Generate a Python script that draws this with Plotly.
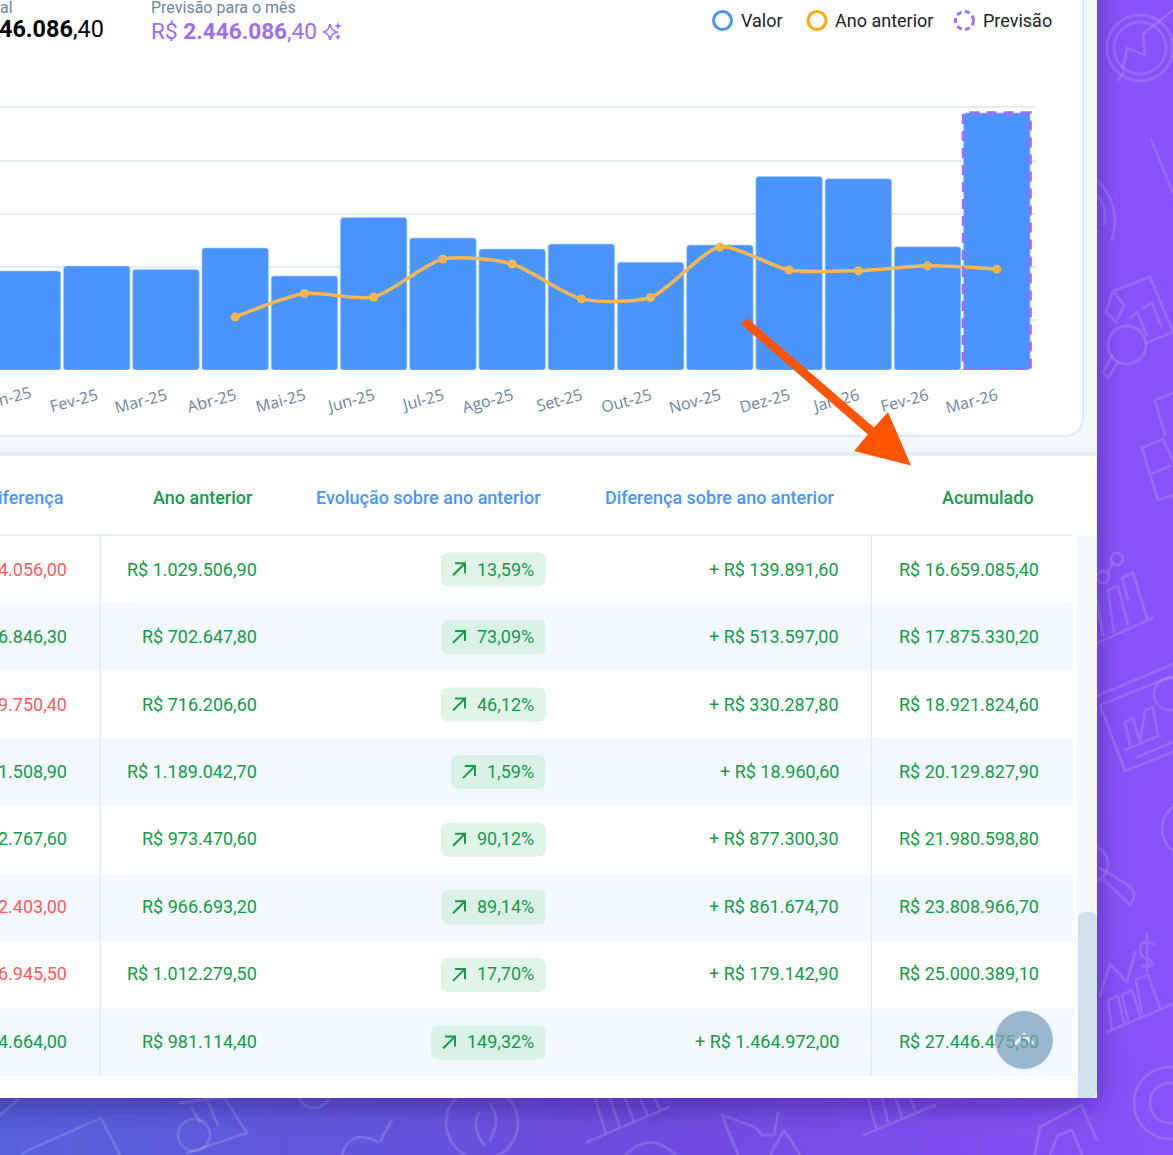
"""
plot.py
-------
Painel de faturamento: barras mensais, linha do ano anterior e tabela.
"""

import base64
import re

import plotly.graph_objects as go

W, H = 1173, 1155

# ─────────────────────────────────────────────
# Dados
# ─────────────────────────────────────────────

meses = ["Jan-25", "Fev-25", "Mar-25", "Abr-25", "Mai-25", "Jun-25", "Jul-25", "Ago-25",
         "Set-25", "Out-25", "Nov-25", "Dez-25", "Jan-26", "Fev-26", "Mar-26"]
valor = [964000, 1011000, 978000, 1180000, 917000, 1466000, 1274000, 1169398.5,
         1216244.8, 1046494.4, 1208003.3, 1850770.9, 1828367.9, 1191422.4, 2446086.4]
ano_anterior = [None, None, None, 533000, 753000, 720000, 1077000, 1029506.9,
                702647.8, 716206.6, 1189042.7, 973470.6, 966693.2, 1012279.5, 981114.4]

col_diferenca = ["4.056,00", "6.846,30", "9.750,40", "1.508,90",
                 "2.767,60", "2.403,00", "6.945,50", "4.664,00"]
col_diferenca_neg = [True, False, True, False, False, True, True, False]
col_ano = ["R$ 1.029.506,90", "R$ 702.647,80", "R$ 716.206,60", "R$ 1.189.042,70",
           "R$ 973.470,60", "R$ 966.693,20", "R$ 1.012.279,50", "R$ 981.114,40"]
col_evolucao = ["13,59%", "73,09%", "46,12%", "1,59%", "90,12%", "89,14%", "17,70%", "149,32%"]
col_dif_ano = ["+ R$ 139.891,60", "+ R$ 513.597,00", "+ R$ 330.287,80", "+ R$ 18.960,60",
               "+ R$ 877.300,30", "+ R$ 861.674,70", "+ R$ 179.142,90", "+ R$ 1.464.972,00"]
col_acumulado = ["R$ 16.659.085,40", "R$ 17.875.330,20", "R$ 18.921.824,60", "R$ 20.129.827,90",
                 "R$ 21.980.598,80", "R$ 23.808.966,70", "R$ 25.000.389,10",
                 "R$ 27.446.4<span style='color:#5f9f96'>75,50</span>"]

Y_MIN, Y_MAX = 35640, 2568000

AZUL = "#4a94ff"
VERDE = "#149a48"
VERMELHO = "#fb5a5f"
LARANJA = "#f5b650"
ROXO = "#9a6dff"
BORDA = "#dfeaf6"
FUNDO_CLARO = "#f3f8fe"
CINZA = "#6d8596"


# ─────────────────────────────────────────────
# Helpers: pixels da tela -> coordenadas paper
# ─────────────────────────────────────────────

def px(x):
    return x / W


def py(y):
    return 1 - y / H


def path(d):
    """Converte um path em pixels (x y alternados) para coordenadas paper."""
    i = [0]

    def conv(m):
        v = float(m.group())
        i[0] += 1
        return f"{px(v):.5f}" if i[0] % 2 else f"{py(v):.5f}"

    return re.sub(r"-?\d+\.?\d*", conv, d)


def s_path(d, fill=None, line=None, lw=0, layer="below", dash=None):
    return dict(type="path", xref="paper", yref="paper", path=path(d), fillcolor=fill or "rgba(0,0,0,0)",
                line=dict(color=line or "rgba(0,0,0,0)", width=lw, dash=dash or "solid"), layer=layer)


def s_rect(x0, y0, x1, y1, fill):
    return dict(type="rect", xref="paper", yref="paper", x0=px(x0), x1=px(x1), y0=py(y0), y1=py(y1),
                fillcolor=fill, line=dict(width=0), layer="below")


def s_circle(cx, cy, r, fill=None, line=None, lw=0, dash=None, layer="below"):
    return dict(type="circle", xref="paper", yref="paper", x0=px(cx - r), x1=px(cx + r), y0=py(cy - r),
                y1=py(cy + r), fillcolor=fill or "rgba(0,0,0,0)",
                line=dict(color=line or "rgba(0,0,0,0)", width=lw, dash=dash or "solid"), layer=layer)


def txt(x, y, text, size=18, color="#222", anchor="right", family="Roboto", weight=None, angle=0):
    return dict(xref="paper", yref="paper", x=px(x), y=py(y), text=text, showarrow=False, xanchor=anchor,
                yanchor="middle", borderwidth=0, borderpad=0, textangle=angle,
                font=dict(family=family, size=size, color=color, weight=weight))


def pill(x0, y0, x1, y1, r, fill):
    return s_path(f"M{x0 + r} {y0} L{x1 - r} {y0} Q{x1} {y0} {x1} {y0 + r} L{x1} {y1 - r} Q{x1} {y1} {x1 - r} {y1} "
                  f"L{x0 + r} {y1} Q{x0} {y1} {x0} {y1 - r} L{x0} {y0 + r} Q{x0} {y0} {x0 + r} {y0} Z", fill=fill)


# ─────────────────────────────────────────────
# Fundo roxo com ícones (SVG embutido)
# ─────────────────────────────────────────────

ICONES = """
<circle cx="1140" cy="48" r="33"/><circle cx="1140" cy="48" r="26"/>
<path d="M1123 68 L1127 48 L1145 55 L1143 34 L1172 11 M1118 80 L1124 72"/>
<path d="M1151 139 L1173 193 M1097 180 Q1122 205 1112 240 M1097 195 Q1108 208 1104 225"/>
<path d="M1113 291 L1150 277 L1173 332 L1146 343 M1113 291 L1106 312 L1116 322 M1113 291 L1124 305 L1118 318 M1130 318 L1137 312 L1147 335 M1143 308 L1152 303 L1161 326"/>
<circle cx="1127" cy="345" r="19"/><path d="M1118 362 L1108 378 L1103 372 L1112 356"/>
<path d="M1155 400 L1173 393 M1155 400 L1165 435 M1142 448 L1163 439 L1173 462 M1142 448 L1158 500 L1173 495 M1150 474 L1170 466"/>
<path d="M1097 643 L1153 618 M1103 635 L1097 600 M1114 632 L1108 590 L1118 586 L1128 625 M1128 600 L1122 578 L1133 573 L1147 618"/>
<circle cx="1117" cy="559" r="6"/><circle cx="1103" cy="577" r="6"/><path d="M1112 564 L1108 572"/>
<path d="M1097 696 L1173 664 M1100 705 L1173 676 M1100 705 L1125 771 L1173 752 M1130 745 L1125 722 L1133 718 L1140 742 L1145 710 L1153 707 L1158 736 M1125 750 L1158 736 M1137 757 L1173 742"/>
<circle cx="1170" cy="694" r="16"/>
<circle cx="1190" cy="829" r="28"/>
<circle cx="1090" cy="864" r="18"/><path d="M1104 880 L1130 905 Q1140 892 1126 884 L1100 868"/>
<path d="M1155 945 Q1140 938 1140 950 Q1140 958 1150 960 Q1156 968 1142 966 M1147 934 L1147 972"/>
<path d="M1107 1032 L1173 1004 M1100 996 L1110 964 L1127 982 L1135 952 M1112 1028 L1108 1000 L1118 996 L1124 1024 M1128 1020 L1122 995 L1132 990 L1140 1016 M1142 1013 L1136 980 L1148 975 L1160 1008"/>
<circle cx="1170" cy="1103" r="36"/><circle cx="1170" cy="1103" r="20"/>
<circle cx="482" cy="1123" r="36"/><path d="M490 1104 Q502 1120 490 1140 M480 1112 Q470 1125 484 1145"/>
<path d="M180 1103 L224 1097 L247 1133 L187 1153 M192 1108 L200 1122 M208 1103 L218 1125"/><circle cx="194" cy="1135" r="16"/>
<path d="M587 1142 L669 1107 M595 1098 L606 1134 M610 1098 L620 1128 M625 1098 L634 1122 M640 1098 L648 1116 M655 1098 L660 1110"/>
<path d="M864 1135 L935 1105 M868 1098 L876 1128 M882 1098 L888 1122 M896 1098 L902 1118 M910 1098 L916 1112"/>
<path d="M722 1115 L738 1155 M722 1115 L755 1127 L762 1135 L774 1135 L778 1113 M770 1155 L784 1130 L800 1155"/>
<path d="M22 1153 L101 1118 L120 1155 M0 1115 L18 1100"/>
<path d="M1040 1127 L1081 1105 L1097 1140 M1040 1127 L1035 1155 M1050 1155 L1058 1135 L1072 1130 L1082 1155"/>
<path d="M342 1155 Q350 1128 378 1142 M381 1140 L392 1120"/><circle cx="314" cy="1092" r="16"/>
<path d="M625 1155 Q650 1130 676 1155"/>
"""

SVG = f"""<svg xmlns="http://www.w3.org/2000/svg" width="{W}" height="{H}" viewBox="0 0 {W} {H}">
<defs>
<linearGradient id="bg" gradientUnits="userSpaceOnUse" x1="0" y1="1155" x2="1173" y2="1000"><stop offset="0" stop-color="#5560dc"/><stop offset="0.55" stop-color="#6f4ae0"/><stop offset="1" stop-color="#8a50fc"/></linearGradient>
<filter id="blur" x="-10%" y="-10%" width="120%" height="120%"><feGaussianBlur stdDeviation="14"/></filter>
</defs>
<rect width="{W}" height="{H}" fill="url(#bg)"/>
<g fill="none" stroke="#fff" stroke-opacity="0.15" stroke-width="2.8" stroke-linecap="round" stroke-linejoin="round">{ICONES}</g>
<rect x="-60" y="-60" width="1157" height="1164" fill="#1a0a3a" fill-opacity="0.4" filter="url(#blur)"/>
</svg>"""
svg_uri = "data:image/svg+xml;base64," + base64.b64encode(SVG.encode()).decode()


# ─────────────────────────────────────────────
# Gráfico
# ─────────────────────────────────────────────

fig = go.Figure()

fig.add_trace(go.Bar(
    x=list(range(len(meses))),
    y=[v - Y_MIN for v in valor],
    base=Y_MIN,
    marker=dict(color=AZUL, line=dict(color="#a9cdfb", width=0.6)),
    name="Valor",
    showlegend=False,
))

fig.add_trace(go.Scatter(
    x=list(range(len(meses))),
    y=ano_anterior,
    mode="lines+markers",
    line=dict(color=LARANJA, width=3.5, shape="spline", smoothing=0.7),
    marker=dict(size=9, color=LARANJA),
    connectgaps=False,
    name="Ano anterior",
    showlegend=False,
))

BAR_W = 0.96
ult = len(meses) - 1

shapes = [
    # painel branco e cartão do gráfico
    s_path("M0 0 L1097 0 L1097 1090 Q1097 1098 1089 1098 L0 1098 Z", fill="white"),
    s_rect(0, 0, 1097, 453, FUNDO_CLARO),
    s_path("M-6 -6 L1083 -6 L1083 416 Q1083 436 1063 436 L-6 436 Z", fill="white", line=BORDA, lw=2),
    s_rect(0, 452, 1097, 456, "#e2edf8"),
    # tabela
    s_rect(0, 534.5, 1073, 536, BORDA),
    s_rect(1078, 536, 1097, 1098, FUNDO_CLARO),
    s_path("M1078 919 Q1078 912 1085 912 L1090 912 Q1097 912 1097 919 L1097 1090 Q1097 1098 1089 1098 L1078 1098 Z",
           fill="#d0e0ef"),
]
for i in range(1, 8, 2):
    shapes.append(s_rect(0, 535.5 + 67.6 * i, 1073, 535.5 + 67.6 * (i + 1), FUNDO_CLARO))
shapes += [s_rect(99.5, 536, 101, 1076, BORDA), s_rect(870.5, 536, 872, 1076, BORDA)]

# contorno tracejado da previsão
shapes.append(dict(type="rect", xref="x", yref="y", x0=ult - BAR_W / 2, x1=ult + BAR_W / 2, y0=Y_MIN, y1=valor[-1],
                   line=dict(color=ROXO, width=3.5, dash="10px,7px"), layer="above"))

annotations = [
    txt(0, 7, "al", 16, CINZA, "left"),
    txt(151, 7, "Previsão para o mês", 16, CINZA, "left"),
    txt(104, 29, "R$ <b>2.446.086</b>,40", 23.4, "#000"),
    txt(151, 31, "R$ <b>2.446.086</b>,40", 22.6, ROXO, "left"),
    txt(741, 20.5, "Valor", 18, "#222", "left"),
    txt(835, 20.5, "Ano anterior", 18, "#222", "left"),
    txt(983, 20.5, "Previsão", 18, "#222", "left"),
    txt(63, 497, "iferença", 18, AZUL, weight=500),
    txt(253, 497, "Ano anterior", 18, VERDE, weight=500),
    txt(541, 497, "Evolução sobre ano anterior", 18, AZUL, weight=500),
    txt(834, 497, "Diferença sobre ano anterior", 18, AZUL, weight=500),
    txt(1034, 497, "Acumulado", 18, VERDE, weight=500),
    # primeiro rótulo do eixo, cortado na borda da tela
    txt(14, 396, "n-25", 16, CINZA, "center", family="Open Sans", angle=-15),
]

# faísca ao lado da previsão
shapes += [
    s_path("M330 24 Q331 31 338 32 Q331 33 330 40 Q329 33 323 32 Q329 31 330 24 Z", line=ROXO, lw=1.6),
    s_path("M338 22 L339 25 L342 26 L339 27 L338 30 L337 27 L334 26 L337 25 Z", fill=ROXO),
    s_path("M338 34 L339 36 L341 37 L339 38 L338 40 L337 38 L335 37 L337 36 Z", fill=ROXO),
]

# legenda
shapes += [
    s_circle(722.5, 20.5, 9, line=AZUL, lw=3),
    s_circle(817, 20.5, 9, line="#ffa800", lw=3),
    s_circle(964.5, 20.5, 9, line=ROXO, lw=3, dash="5px,3.5px"),
]

# linhas da tabela
for i in range(8):
    yc = 535.5 + 67.6 * (i + 0.5)
    yt = yc - 0.2 * i
    annotations += [
        txt(67, yt, col_diferenca[i], color=VERMELHO if col_diferenca_neg[i] else VERDE),
        txt(257, yt, col_ano[i], color=VERDE),
        txt(534, yt, col_evolucao[i], color=VERDE),
        txt(839, yt, col_dif_ano[i], color=VERDE),
        txt(1039, yt, col_acumulado[i], color=VERDE),
    ]
    left = 441 - (len(col_evolucao[i]) - 6) * 10
    shapes.append(pill(left, yc - 17, 546, yc + 17, 8, "#d9f1e6" if i % 2 else "#e1f4e8"))
    ax = left + 12
    shapes.append(s_path(f"M{ax} {yc + 6} L{ax + 12} {yc - 6} M{ax + 2} {yc - 6} L{ax + 12} {yc - 6} L{ax + 12} {yc + 4}",
                         line=VERDE, lw=2))

# seta laranja e botão de topo por cima de tudo
shapes += [
    s_path("M747 318 L874 427.6 L888 412 L911 465.5 L854 451 L868 434.4 L741 324 Z", fill="#ff5500", layer="above"),
    s_circle(1024, 1040, 29, fill="rgba(135,170,198,0.85)", layer="above"),
    s_path("M1015 1044 L1024 1035 L1033 1044", line="rgba(255,255,255,0.85)", lw=3.5, layer="above"),
]

fig.update_layout(
    width=W,
    height=H,
    margin=dict(l=0, r=0, t=0, b=0),
    paper_bgcolor="#7a4de6",
    plot_bgcolor="rgba(0,0,0,0)",
    bargap=0.04,
    barcornerradius=3,
    showlegend=False,
    shapes=shapes,
    annotations=annotations,
    images=[dict(source=svg_uri, xref="paper", yref="paper", x=0, y=1, sizex=1, sizey=1,
                 xanchor="left", yanchor="top", sizing="stretch", layer="below")],
    xaxis=dict(
        domain=[0, 1036 / W],
        range=[-0.397, 14.566],
        tickvals=list(range(len(meses))),
        ticktext=meses,
        tickangle=-15,
        ticklen=0,
        ticklabelstandoff=13,
        tickfont=dict(family="Open Sans", size=16, color=CINZA),
        showgrid=False,
        zeroline=False,
        showline=False,
    ),
    yaxis=dict(
        domain=[py(370), py(100)],
        range=[Y_MIN, Y_MAX],
        tick0=0,
        dtick=500000,
        showticklabels=False,
        gridcolor="#e4eef8",
        gridwidth=1.5,
        zeroline=False,
        showline=False,
        ticklen=0,
    ),
)

fig.write_html(
    "out.html",
    config=dict(displayModeBar=False),
    post_script="document.body.style.margin='0';document.body.style.overflow='hidden';",
)
